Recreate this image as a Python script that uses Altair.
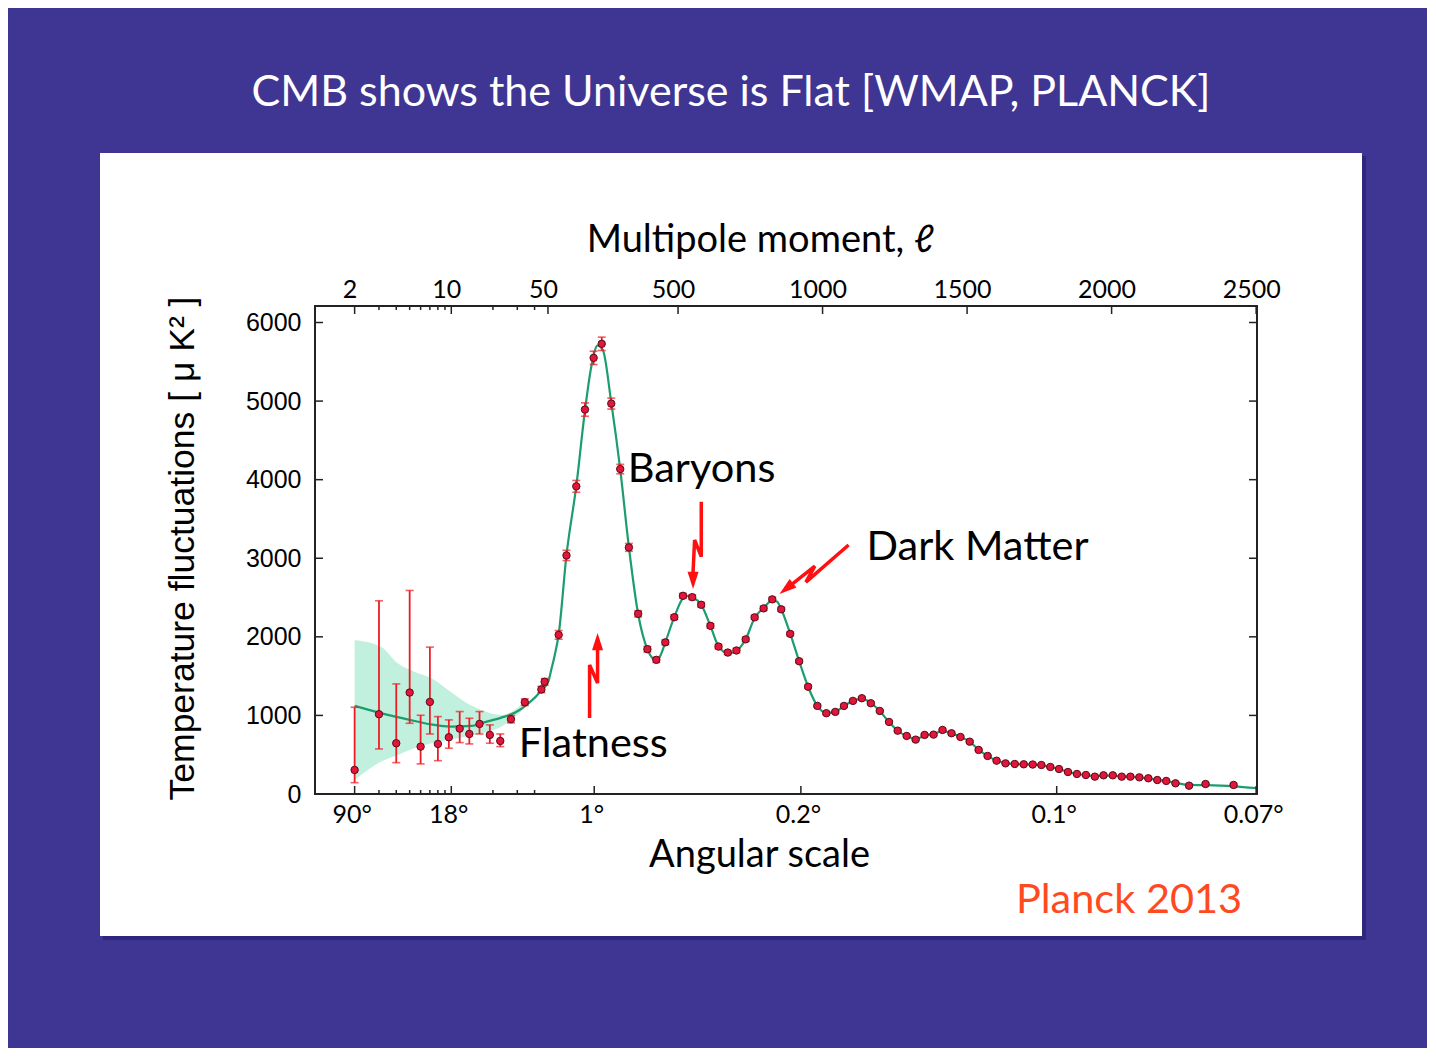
import math
import altair as alt
import pandas as pd

# ---------------- data ----------------
slide_title = "CMB shows the Universe is Flat [WMAP, PLANCK]"
caption = "Planck 2013"

# low-ell points with asymmetric error bars
low_ell = [2, 3, 4, 5, 6, 7, 8, 9.6, 11.5, 13.5, 16, 19, 22.6, 27, 34, 44.8, 47.3]
low_D = [306, 1015, 646, 1291, 603, 1172, 637, 722, 832, 764, 892, 752, 675, 952, 1168, 1330, 1428]
low_lo = [144, 573, 399, 900, 383, 764, 424, 582, 654, 637, 764, 646, 603, 905, 1125, 1290, 1385]
low_hi = [1104, 2459, 1401, 2590, 1002, 1869, 985, 943, 1049, 964, 1049, 879, 764, 1000, 1210, 1370, 1470]

# high-ell binned points
hi_ell = [87, 114, 148, 178, 208, 236, 269, 300, 330, 362,
          394, 425, 456, 487, 517, 549, 580, 612, 640, 672,
          702, 734, 765, 796, 826, 857, 888, 919, 950, 982,
          1013, 1044, 1074, 1105, 1136, 1167, 1198, 1230, 1260, 1291,
          1322, 1353, 1384, 1415, 1446, 1477, 1509, 1540, 1571, 1602,
          1633, 1665, 1696, 1727, 1757, 1788, 1818, 1849, 1880, 1911,
          1942, 1972, 2004, 2035, 2065, 2096, 2127, 2158, 2189, 2221,
          2268, 2325, 2422]
hi_D = [2025, 3036, 3915, 4892, 5550, 5729, 4968, 4135, 3138, 2293,
        1843, 1707, 1930, 2250, 2522, 2505, 2408, 2140, 1876, 1800,
        1826, 1968, 2248, 2362, 2477, 2350, 2038, 1690, 1365, 1121,
        1028, 1045, 1121, 1185, 1219, 1155, 1057, 917, 806, 739,
        692, 752, 756, 815, 773, 726, 666, 561, 484, 424,
        390, 382, 378, 375, 369, 344, 318, 280, 255, 242,
        221, 238, 238, 221, 221, 212, 200, 178, 166, 136,
        106, 127, 115]
hi_err = [55, 65, 75, 85, 85, 85, 70, 60, 50, 40,
          35, 32, 30, 30, 30, 30, 30, 28, 26, 25,
          25, 25, 25, 25, 25, 25, 24, 22, 20, 18,
          18, 18, 18, 18, 18, 17, 16, 15, 14, 14,
          14, 14, 14, 14, 14, 14, 13, 12, 12, 12,
          12, 12, 12, 12, 12, 12, 12, 12, 12, 12,
          12, 12, 12, 12, 12, 13, 13, 13, 13, 14,
          15, 16, 18]

# best-fit theory curve
th_ell = [2, 3, 5, 7, 10, 14, 17, 23, 29, 36, 45, 52, 60, 73, 87, 114, 148, 178, 200, 222,
          240, 269, 300, 330, 362, 394, 412, 425, 440, 456, 487, 517, 535, 552, 580, 612,
          640, 672, 690, 705, 734, 765, 796, 826, 842, 857, 888, 919, 950, 982, 1013, 1044,
          1074, 1105, 1136, 1167, 1198, 1230, 1260, 1291, 1322, 1353, 1384, 1415, 1446, 1477,
          1509, 1540, 1571, 1602, 1633, 1665, 1696, 1727, 1757, 1788, 1818, 1849, 1880, 1911,
          1942, 1972, 2004, 2035, 2065, 2096, 2127, 2158, 2189, 2221, 2268, 2325, 2422, 2500]
th_D = [1121, 1036, 943, 888, 857, 866, 908, 972, 1036, 1150, 1320, 1440, 1560, 1760, 2030, 3040, 3920, 4880, 5440, 5710,
        5650, 4980, 4130, 3140, 2290, 1840, 1725, 1700, 1770, 1930, 2250, 2490, 2520, 2500, 2410, 2140,
        1880, 1795, 1800, 1830, 1970, 2240, 2370, 2460, 2450, 2350, 2040, 1690, 1365, 1120, 1030, 1045,
        1120, 1185, 1210, 1160, 1055, 915, 805, 738, 700, 740, 765, 800, 775, 725,
        665, 562, 485, 425, 392, 381, 377, 374, 365, 343, 316, 282, 258, 240,
        228, 232, 233, 225, 218, 210, 198, 180, 163, 142, 115, 112, 98, 75]

# cosmic-variance band at low ell
band_ell = [2, 3.1, 4.1, 5.4, 7.2, 9.5, 12.5, 16.5, 23, 32]
band_lo = [178, 411, 496, 581, 645, 687, 730, 772, 857, 1047]
band_hi = [1960, 1875, 1663, 1557, 1472, 1323, 1175, 1069, 1005, 1133]

# annotations (data coordinates)
note_text = ["Baryons", "Dark Matter", "Flatness"]
note_ell = [326, 1152, 30.7]
note_D = [4123, 3131, 624]

# lightning-bolt arrows (data coordinates), tip = arrow head position
arrow_id = ["flat"] * 4 + ["bary"] * 4 + ["dm"] * 4
arrow_step = [0, 1, 2, 3] * 3
arrow_ell = [194, 194, 221.6, 221.6,
             580.4, 580.4, 557.3, 552.0,
             1090, 942.4, 973.2, 889.4]
arrow_D = [967, 1642, 1413, 1858,
           3720, 3020, 3232, 2825,
           3169, 2697, 2901, 2656]
head_ell = [221.6, 552.0, 851]
head_D = [2049, 2609, 2545]
head_angle = [0, 180, 231.5]

# axes
y_ticks = [0, 1000, 2000, 3000, 4000, 5000, 6000]
top_tick_ell = [2, 10, 50, 500, 1000, 1500, 2000, 2500]
top_tick_labels = ["2", "10", "50", "500", "1000", "1500", "2000", "2500"]
minor_tick_ell = [3, 4, 5, 6, 7, 8, 9, 20, 30, 40]
ang_tick_ell = [2, 10, 210, 925, 1810, 2500]
ang_tick_labels = ["90°", "18°", "1°", "0.2°", "0.1°", "0.07°"]

# ---------------- hybrid log/linear ell axis ----------------
PER_DECADE = 478.5
U_EXPR = f"datum.l >= 50 ? datum.l : 50 + {PER_DECADE} * log(datum.l / 50) / LN10"


def u_of(l):
    return l if l >= 50 else 50 + PER_DECADE * math.log10(l / 50)


def label_expr(pos, labels):
    expr = f"'{labels[-1]}'"
    for i in reversed(range(len(pos) - 1)):
        mid = (pos[i] + pos[i + 1]) / 2
        expr = f"datum.value < {mid:.3f} ? '{labels[i]}' : ({expr})"
    return expr


top_pos = [u_of(v) for v in top_tick_ell]
ang_pos = [u_of(v) for v in ang_tick_ell]

W, H = 942, 488
xscale = alt.Scale(domain=[-756, 2503], nice=False, zero=False)
yscale = alt.Scale(domain=[0, 6210], nice=False, zero=False)
SANS = "Lato"
HELV = "Liberation Sans"
RED = "#ee1c25"
NOX = alt.X("u:Q", scale=xscale, axis=None)


def Y(field):
    return alt.Y(field, scale=yscale, axis=None)


pts = pd.DataFrame({
    "l": low_ell + hi_ell,
    "D": low_D + hi_D,
    "lo": low_lo + [d - e for d, e in zip(hi_D, hi_err)],
    "hi": low_hi + [d + e for d, e in zip(hi_D, hi_err)],
})
theory = pd.DataFrame({"l": th_ell, "D": th_D})
band = pd.DataFrame({"l": band_ell, "lo": band_lo, "hi": band_hi})
notes = pd.DataFrame({"l": note_ell, "D": note_D, "t": note_text})
arrows = pd.DataFrame({"id": arrow_id, "s": arrow_step, "l": arrow_ell, "D": arrow_D})
heads = pd.DataFrame({"l": head_ell, "D": head_D, "a": head_angle})
one = pd.DataFrame({"t": [slide_title]})
cap_df = pd.DataFrame({"t": [caption]})

# ---------------- layers ----------------
shadow = alt.Chart(one).mark_rect(color="#2a2274", opacity=0.7).encode(
    x=alt.value(-212), x2=alt.value(1051), y=alt.value(-150), y2=alt.value(634))
panel = alt.Chart(one).mark_rect(color="white").encode(
    x=alt.value(-215), x2=alt.value(1047), y=alt.value(-153), y2=alt.value(630))

band_l = alt.Chart(band).transform_calculate(u=U_EXPR).mark_area(
    color="#8fe3c4", opacity=0.55, interpolate="monotone").encode(
    x=NOX, y=Y("lo:Q"), y2="hi:Q")

theory_l = alt.Chart(theory).transform_calculate(u=U_EXPR).mark_line(
    color="#1c9d6e", strokeWidth=2.2, interpolate="monotone").encode(
    x=alt.X("u:Q", scale=xscale, axis=alt.Axis(
        orient="top", values=top_pos, labelExpr=label_expr(top_pos, top_tick_labels),
        labelFont=SANS, labelFontSize=25, labelColor="black", labelPadding=4,
        labelOffset=-5, labelFlush=False, labelOverlap=False,
        ticks=False, domain=False, grid=False, zindex=2,
        title="Multipole moment, ℓ", titleFont=SANS, titleFontSize=38,
        titleFontWeight="normal", titleColor="black", titleX=445, titleY=-55,
        titleAlign="center", titleBaseline="alphabetic")),
    y=Y("D:Q"))

err = alt.Chart(pts).transform_calculate(u=U_EXPR).mark_rule(
    color=RED, strokeWidth=1.8).encode(x=NOX, y=Y("lo:Q"), y2="hi:Q")
cap_lo = alt.Chart(pts).transform_calculate(u=U_EXPR).mark_tick(
    color=RED, orient="horizontal", size=8, thickness=1.6).encode(x=NOX, y=Y("lo:Q"))
cap_hi = alt.Chart(pts).transform_calculate(u=U_EXPR).mark_tick(
    color=RED, orient="horizontal", size=8, thickness=1.6).encode(x=NOX, y=Y("hi:Q"))

points = alt.Chart(pts).transform_calculate(u=U_EXPR).mark_circle(
    fill="#e0163a", stroke="#5c0a1a", strokeWidth=1, size=55, opacity=1).encode(
    x=alt.X("u:Q", scale=xscale, axis=alt.Axis(
        orient="bottom", values=ang_pos, labelExpr=label_expr(ang_pos, ang_tick_labels),
        labelFont=SANS, labelFontSize=25, labelColor="black", labelPadding=8,
        labelOffset=-3, labelFlush=False, labelOverlap=False,
        ticks=False, domain=False, grid=False, zindex=2,
        title="Angular scale", titleFont=SANS, titleFontSize=38,
        titleFontWeight="normal", titleColor="black", titleX=444, titleY=72,
        titleAlign="center", titleBaseline="alphabetic")),
    y=alt.Y("D:Q", scale=yscale, axis=alt.Axis(
        orient="left", values=y_ticks, format="d", labelFont=HELV, labelFontSize=25,
        labelColor="black", labelPadding=14, ticks=False, domain=False, grid=False, zindex=2,
        title="Temperature fluctuations [ μ K² ]", titleFont=HELV, titleFontSize=35.5,
        titleFontWeight="normal", titleColor="black", titleAngle=270,
        titleX=-122, titleY=242, titleAlign="center", titleBaseline="alphabetic")))

arrow_l = alt.Chart(arrows).transform_calculate(u=U_EXPR).mark_line(
    color="#ff1010", strokeWidth=3.5, strokeJoin="miter").encode(
    x=NOX, y=Y("D:Q"), detail="id:N", order="s:Q")
head_l = alt.Chart(heads).transform_calculate(u=U_EXPR).mark_point(
    shape="M0,0L0.32,1L-0.32,1Z", filled=True, color="#ff1010", opacity=1, size=1200).encode(
    x=NOX, y=Y("D:Q"), angle=alt.Angle("a:Q", scale=None))

notes_l = alt.Chart(notes).transform_calculate(u=U_EXPR).mark_text(
    font=SANS, fontSize=41.5, color="black", align="left", baseline="middle").encode(
    x=NOX, y=Y("D:Q"), text="t:N")

tick_style = dict(color="#222", strokeWidth=1.5)
yt_df = pd.DataFrame({"D": y_ticks})
ytl = alt.Chart(yt_df).mark_rule(**tick_style).encode(y=Y("D:Q"), x=alt.value(0), x2=alt.value(8))
ytr = alt.Chart(yt_df).mark_rule(**tick_style).encode(y=Y("D:Q"), x=alt.value(W), x2=alt.value(W - 8))
top_major = alt.Chart(pd.DataFrame({"l": top_tick_ell})).transform_calculate(u=U_EXPR).mark_rule(
    **tick_style).encode(x=NOX, y=alt.value(0), y2=alt.value(8))
minor_df = pd.DataFrame({"l": minor_tick_ell})
top_minor = alt.Chart(minor_df).transform_calculate(u=U_EXPR).mark_rule(
    **tick_style).encode(x=NOX, y=alt.value(0), y2=alt.value(4))
bot_major = alt.Chart(pd.DataFrame({"l": ang_tick_ell})).transform_calculate(u=U_EXPR).mark_rule(
    **tick_style).encode(x=NOX, y=alt.value(H), y2=alt.value(H - 8))
bot_minor = alt.Chart(minor_df).transform_calculate(u=U_EXPR).mark_rule(
    **tick_style).encode(x=NOX, y=alt.value(H), y2=alt.value(H - 4))

frame = alt.Chart(one).mark_rect(fillOpacity=0, stroke="#222", strokeWidth=2).encode(
    x=alt.value(0), x2=alt.value(W), y=alt.value(0), y2=alt.value(H))

title_l = alt.Chart(one).mark_text(
    font=SANS, fontSize=43, color="white", align="center", baseline="alphabetic").encode(
    x=alt.value(416), y=alt.value(-200), text="t:N")
caption_l = alt.Chart(cap_df).mark_text(
    font=SANS, fontSize=41.5, color="#ff4a1f", align="left", baseline="alphabetic").encode(
    x=alt.value(701), y=alt.value(607), text="t:N")

chart = alt.layer(
    shadow, panel, band_l, theory_l, err, cap_lo, cap_hi, points,
    arrow_l, head_l, notes_l, ytl, ytr, top_major, top_minor, bot_major, bot_minor,
    frame, title_l, caption_l,
).resolve_axis(x="independent", y="independent").properties(
    width=W, height=H,
    autosize=alt.AutoSizeParams(type="none"),
    padding={"left": 307, "top": 298, "right": 170, "bottom": 254},
).configure(background="#3f3593").configure_view(stroke=None)

chart.save("out.html", embed_options={"renderer": "svg", "actions": False})
